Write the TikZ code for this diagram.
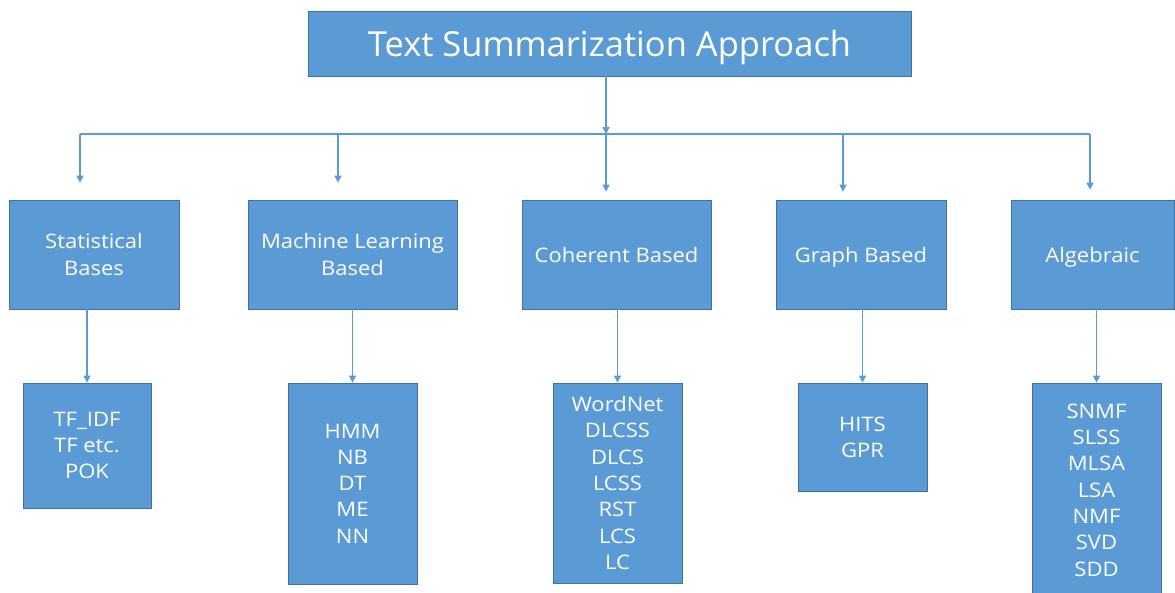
\documentclass[tikz,border=0pt]{standalone}
\usepackage{fontspec}
\setmainfont{Open Sans}
\newfontfamily\labfont[FakeStretch=1.1]{Open Sans}
\usetikzlibrary{arrows.meta}
\definecolor{boxfill}{HTML}{5B9BD5}
\definecolor{boxline}{HTML}{41719C}
\tikzset{
  box/.style={draw=boxline, line width=0.8pt, fill=boxfill, text=white, inner sep=0pt,
    align=center, font=\labfont\fontsize{20}{26.3}\selectfont},
  arr/.style={draw=boxfill, line width=1.5pt, -{Triangle[length=7pt,width=7pt]}},
  ln/.style={draw=boxfill, line width=1.5pt}
}
\begin{document}
\begin{tikzpicture}[x=1pt,y=-1pt]
\useasboundingbox (0,0) rectangle (1175,592);
% title
\node[box, minimum width=603, minimum height=65, text depth=0pt, font=\fontsize{34.5}{40}\selectfont] (title) at (609.5,43.5) {Text Summarization Approach};
% level 2
\node[box, minimum width=170, minimum height=109] (stat) at (94,254.5) {Statistical\\Bases};
\node[box, minimum width=209, minimum height=109] (ml) at (352.5,254.5) {Machine Learning\\Based};
\node[box, minimum width=189, minimum height=109] (coh) at (616.5,254.5) {Coherent Based};
\node[box, minimum width=170, minimum height=109, text depth=0pt] (graph) at (861,254.5) {Graph Based};
\node[box, minimum width=163, minimum height=109, text depth=0pt] (alg) at (1092.5,254.5) {Algebraic};
% level 3
\node[box, minimum width=128, minimum height=125] (tf) at (87,445.5) {TF\_IDF\\TF etc.\\POK};
\node[box, minimum width=129, minimum height=201] (hmm) at (352.5,483.5) {HMM\\NB\\DT\\ME\\NN};
\node[box, minimum width=129, minimum height=200] (wn) at (617.5,483) {WordNet\\DLCSS\\DLCS\\LCSS\\RST\\LCS\\LC};
\node[box, minimum width=129, minimum height=108] (hits) at (862.5,437) {HITS\\GPR};
\node[box, minimum width=129, minimum height=214] (snmf) at (1096.5,490) {SNMF\\SLSS\\MLSA\\LSA\\NMF\\SVD\\SDD};
% trunk
\coordinate (t0) at (606,76);
\coordinate (jc) at (606,134);
\coordinate (j1) at (80,134);
\coordinate (j2) at (338,134);
\coordinate (j4) at (843,134);
\coordinate (j5) at (1090,134);
\draw[ln] (j1) -- (j5);
\draw[arr] (t0) -- (jc);
\draw[arr, shorten >=17pt] (j1) -- (j1 |- stat.north);
\draw[arr, shorten >=17pt] (j2) -- (j2 |- ml.north);
\draw[arr, shorten >=8pt] (jc) -- (jc |- coh.north);
\draw[arr, shorten >=8pt] (j4) -- (j4 |- graph.north);
\draw[arr, shorten >=10pt] (j5) -- (j5 |- alg.north);
% children
\draw[arr] (stat.south -| tf.north) -- (tf.north);
\draw[arr] (ml.south -| hmm.north) -- (hmm.north);
\draw[arr] (coh.south -| wn.north) -- (wn.north);
\draw[arr] (graph.south -| hits.north) -- (hits.north);
\draw[arr] (alg.south -| snmf.north) -- (snmf.north);
\end{tikzpicture}
\end{document}
